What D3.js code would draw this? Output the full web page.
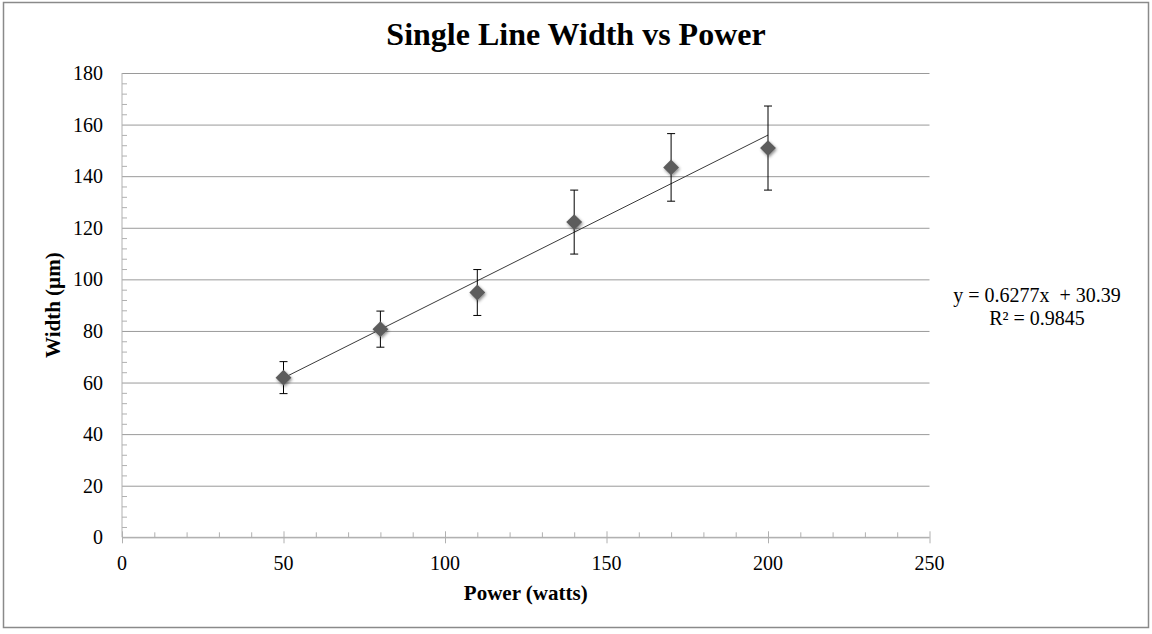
<!DOCTYPE html>
<html>
<head>
<meta charset="utf-8">
<script src="https://cdn.jsdelivr.net/npm/d3@7"></script>
<style>
  body { margin: 0; background: #fff; }
  svg text { font-family: 'Liberation Serif', 'Times New Roman', serif; fill: #000; }
</style>
</head>
<body>
<svg class="chart-svg" width="1152" height="634"></svg>
<script>
// values
const powers = [50, 80, 110, 140, 170, 200]
const widths = [61.9, 80.7, 94.9, 122.2, 143.4, 150.9]
const widthErrors = [6.2, 7.0, 8.9, 12.4, 13.1, 16.3]
const xTicks = [0, 50, 100, 150, 200, 250]
const yTicks = [0, 20, 40, 60, 80, 100, 120, 140, 160, 180]
const trendSlope = 0.6277
const trendIntercept = 30.39
const trendLabels = ['y = 0.6277x  + 30.39', 'R² = 0.9845']

const plot = { left: 122, right: 929.5, top: 73, bottom: 537.3 }

const svg = d3.select('.chart-svg')

const xScale = d3.scaleLinear().domain([0, 250]).range([plot.left, plot.right])
const yScale = d3.scaleLinear().domain([0, 180]).range([plot.bottom, plot.top])

/**
 * Outer frame and title
 */
function drawFrame () {
  svg.append('rect')
    .attr('x', 3.5).attr('y', 2.5)
    .attr('width', 1145).attr('height', 625)
    .attr('fill', 'none')
    .attr('stroke', '#8a8a8a')
    .attr('stroke-width', 1.5)

  svg.append('text')
    .attr('x', 576).attr('y', 45)
    .attr('text-anchor', 'middle')
    .style('font-size', '32px')
    .style('font-weight', 'bold')
    .text('Single Line Width vs Power')
}

/**
 * Horizontal gridlines and the y axis with its ticks
 */
function drawYAxis () {
  const grid = svg.append('g')
    .attr('class', 'grid')
    .attr('transform', `translate(${plot.left},0)`)
    .call(d3.axisLeft(yScale).tickValues(yTicks).tickSize(-(plot.right - plot.left)).tickFormat(''))
  grid.select('.domain').remove()
  grid.selectAll('line').attr('stroke', '#9a9a9a')

  const minor = d3.range(0, 181, 4).filter(v => v % 20 !== 0)
  svg.append('g')
    .attr('transform', `translate(${plot.left},0)`)
    .call(d3.axisRight(yScale).tickValues(minor).tickSize(5).tickFormat(''))
    .call(g => g.select('.domain').remove())
    .selectAll('line').attr('stroke', '#b0b0b0')

  svg.append('line')
    .attr('x1', plot.left).attr('x2', plot.left)
    .attr('y1', plot.top).attr('y2', plot.bottom)
    .attr('stroke', '#b0b0b0')

  svg.append('g')
    .selectAll('text')
    .data(yTicks)
    .enter()
    .append('text')
    .attr('x', 103)
    .attr('y', d => yScale(d))
    .attr('dy', '0.35em')
    .attr('text-anchor', 'end')
    .style('font-size', '20px')
    .text(d => d)

  svg.append('text')
    .attr('transform', `translate(60,${(plot.top + plot.bottom) / 2}) rotate(-90)`)
    .attr('text-anchor', 'middle')
    .style('font-size', '21px')
    .style('font-weight', 'bold')
    .text('Width (µm)')
}

/**
 * X axis along the bottom with major and minor ticks
 */
function drawXAxis () {
  const minor = d3.range(0, 251, 10).filter(v => v % 50 !== 0)
  svg.append('g')
    .attr('transform', `translate(0,${plot.bottom})`)
    .call(d3.axisTop(xScale).tickValues(minor).tickSize(5).tickFormat(''))
    .call(g => g.select('.domain').remove())
    .selectAll('line').attr('stroke', '#b0b0b0')

  svg.append('g')
    .attr('transform', `translate(0,${plot.bottom - 6})`)
    .call(d3.axisBottom(xScale).tickValues(xTicks).tickSize(12).tickFormat(''))
    .call(g => g.select('.domain').remove())
    .selectAll('line').attr('stroke', '#b0b0b0')

  svg.append('line')
    .attr('x1', plot.left).attr('x2', plot.right)
    .attr('y1', plot.bottom).attr('y2', plot.bottom)
    .attr('stroke', '#b0b0b0')

  svg.append('g')
    .selectAll('text')
    .data(xTicks)
    .enter()
    .append('text')
    .attr('x', d => xScale(d))
    .attr('y', 570)
    .attr('text-anchor', 'middle')
    .style('font-size', '20px')
    .text(d => d)

  svg.append('text')
    .attr('x', (plot.left + plot.right) / 2)
    .attr('y', 600)
    .attr('text-anchor', 'middle')
    .style('font-size', '21px')
    .style('font-weight', 'bold')
    .text('Power (watts)')
}

/**
 * Linear trendline with its equation
 */
function drawTrend () {
  const ends = d3.extent(powers)
  svg.append('line')
    .attr('x1', xScale(ends[0]))
    .attr('y1', yScale(trendSlope * ends[0] + trendIntercept))
    .attr('x2', xScale(ends[1]))
    .attr('y2', yScale(trendSlope * ends[1] + trendIntercept))
    .attr('stroke', '#3a3a3a')
    .attr('stroke-width', 1)

  svg.append('g')
    .selectAll('text')
    .data(trendLabels)
    .enter()
    .append('text')
    .attr('x', 1037)
    .attr('y', (d, i) => 302 + i * 23)
    .attr('text-anchor', 'middle')
    .style('font-size', '20px')
    .style('white-space', 'pre')
    .text(d => d)
}

/**
 * Diamond markers with error bars
 */
function drawPoints () {
  const defs = svg.append('defs')
  const filter = defs.append('filter').attr('id', 'shadow')
    .attr('x', '-50%').attr('y', '-50%').attr('width', '200%').attr('height', '200%')
  filter.append('feDropShadow')
    .attr('dx', 1).attr('dy', 1.5)
    .attr('stdDeviation', 1.8)
    .attr('flood-color', '#000')
    .attr('flood-opacity', 0.45)

  const data = powers.map((p, i) => ({ p, w: widths[i], e: widthErrors[i] }))
  const bars = svg.append('g').selectAll('g')
    .data(data)
    .enter()
    .append('g')
    .attr('stroke', '#000')
    .attr('stroke-width', 1)

  bars.append('line')
    .attr('x1', d => xScale(d.p)).attr('x2', d => xScale(d.p))
    .attr('y1', d => yScale(d.w + d.e)).attr('y2', d => yScale(d.w - d.e))
  bars.append('line')
    .attr('x1', d => xScale(d.p) - 4).attr('x2', d => xScale(d.p) + 4)
    .attr('y1', d => yScale(d.w + d.e)).attr('y2', d => yScale(d.w + d.e))
  bars.append('line')
    .attr('x1', d => xScale(d.p) - 4).attr('x2', d => xScale(d.p) + 4)
    .attr('y1', d => yScale(d.w - d.e)).attr('y2', d => yScale(d.w - d.e))

  svg.append('g').selectAll('path')
    .data(data)
    .enter()
    .append('path')
    .attr('d', d3.symbol(d3.symbolDiamond2, 160))
    .attr('transform', d => `translate(${xScale(d.p)},${yScale(d.w)})`)
    .attr('fill', '#5c5c5c')
    .attr('filter', 'url(#shadow)')
}

drawFrame()
drawYAxis()
drawXAxis()
drawTrend()
drawPoints()
</script>
</body>
</html>
